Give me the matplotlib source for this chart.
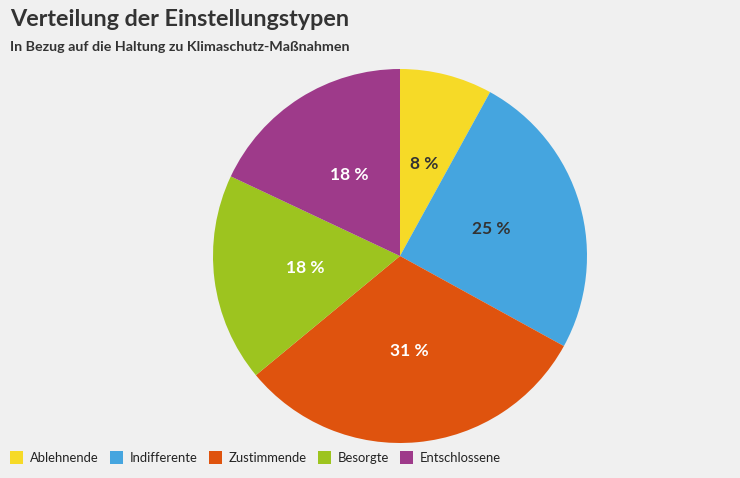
import matplotlib
matplotlib.use("Agg")
import matplotlib.pyplot as plt
from matplotlib.patches import Rectangle

categories = ["Ablehnende", "Indifferente", "Zustimmende", "Besorgte", "Entschlossene"]
values = [8, 25, 31, 18, 18]
colors = ["#F6DA27", "#45A5DF", "#DF530E", "#9DC41F", "#9E3A8A"]
label_colors = ["#333333", "#333333", "#ffffff", "#ffffff", "#ffffff"]

title = "Verteilung der Einstellungstypen"
subtitle = "In Bezug auf die Haltung zu Klimaschutz-Maßnahmen"

bg = "#F0F0F0"
txt = "#333333"
plt.rcParams['font.family'] = ['Lato', 'DejaVu Sans']

fig = plt.figure(figsize=(7.4, 4.78), dpi=100, facecolor=bg)
ax = fig.add_axes([213/740, 35/478, 374/740, 374/478])
ax.set_facecolor(bg)
wedges, texts, autotexts = ax.pie(values, colors=colors, startangle=90, counterclock=False,
                                  autopct=lambda p: f"{p:.0f} %", pctdistance=0.51,
                                  wedgeprops=dict(linewidth=0))
for t, c in zip(autotexts, label_colors):
    t.set_color(c)
    t.set_fontsize(12.5)
    t.set_fontweight("bold")
ax.set_aspect("equal")
ax.set_xlim(-1, 1)
ax.set_ylim(-1, 1)

fig.text(10/740, 1 - 19/478, title, fontsize=16.8, fontweight="bold", color=txt, va="center", ha="left")
fig.text(10/740, 1 - 47/478, subtitle, fontsize=10.3, fontweight="bold", color=txt, va="center", ha="left")

# legend
x = 10
y_center = 457.5
for cat, col in zip(categories, colors):
    fig.patches.append(Rectangle((x/740, 1 - 464/478), 13/740, 13/478, transform=fig.transFigure,
                                 facecolor=col, edgecolor="none"))
    t = fig.text((x + 20)/740, 1 - y_center/478, cat, fontsize=9.4, color="#222222", va="center", ha="left")
    fig.canvas.draw()
    bb = t.get_window_extent()
    x = bb.x1 + 11

fig.savefig("out.png", dpi=100, facecolor=bg)
